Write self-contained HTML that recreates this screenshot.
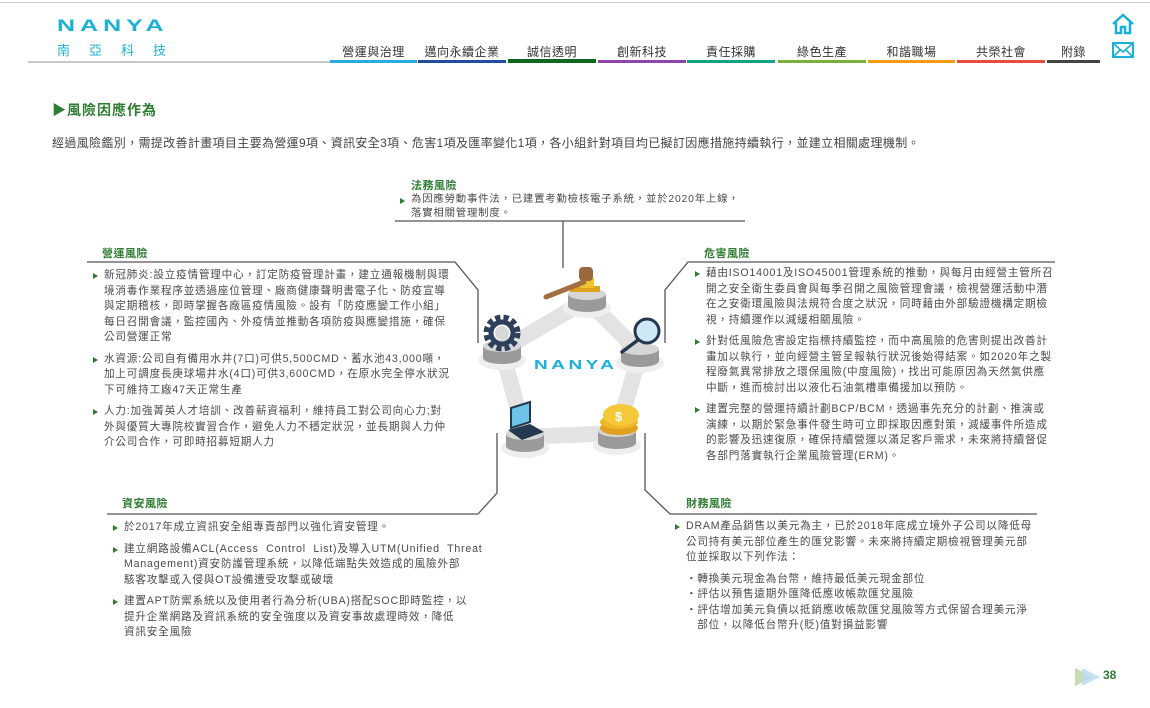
<!DOCTYPE html>
<html><head><meta charset="utf-8">
<style>
*{margin:0;padding:0;box-sizing:border-box}
body{width:1150px;height:708px;background:#fff;position:relative;overflow:hidden;font-family:"Liberation Sans","Noto Sans CJK TC",sans-serif;color:#444}
.a{position:absolute;white-space:nowrap}
.nav{position:absolute;top:43px;font-size:12px;color:#333;text-align:center;letter-spacing:0.5px}
.bar{position:absolute;top:60px;height:3px}
.t{position:absolute;font-size:11px;font-weight:bold;color:#2e7d32;letter-spacing:0.5px}
.p{position:absolute;font-size:10.6px;line-height:15.5px;color:#4a4a4a;white-space:nowrap;letter-spacing:0.8px}
.p .b{position:relative}
.p .b:before{content:"";position:absolute;left:-11px;top:5px;border-left:5px solid #2e7d32;border-top:3px solid transparent;border-bottom:3px solid transparent}
.gap{height:6px}
</style></head><body>
<div class="a" style="left:0;top:2px;width:1150px;height:1px;background:#ccc"></div>
<div class="a" style="left:57px;top:16px;font-size:25px;font-weight:bold;color:#1ab0d8;letter-spacing:5px;transform:scaleY(0.68);transform-origin:top left">NANYA</div>
<div class="a" style="left:57px;top:40px;font-size:13px;color:#1ab0d8;letter-spacing:19px">南亞科技</div>
<div class="a" style="left:28px;top:61px;width:302px;height:2px;background:#c8c8c8"></div>
<div class="nav" style="left:330px;width:87px">營運與治理</div><div class="bar" style="left:330px;width:87px;background:#29abe2"></div>
<div class="nav" style="left:418px;width:88px">邁向永續企業</div><div class="bar" style="left:418px;width:88px;background:#1f4e9c"></div>
<div class="nav" style="left:508px;width:88px">誠信透明</div><div class="bar" style="left:508px;width:88px;background:#0b6a1e;top:59px;height:4px"></div>
<div class="nav" style="left:598px;width:88px">創新科技</div><div class="bar" style="left:598px;width:88px;background:#8e44ad"></div>
<div class="nav" style="left:687px;width:88px">責任採購</div><div class="bar" style="left:687px;width:88px;background:#16a085"></div>
<div class="nav" style="left:778px;width:88px">綠色生產</div><div class="bar" style="left:778px;width:88px;background:#7cae3a"></div>
<div class="nav" style="left:868px;width:87px">和諧職場</div><div class="bar" style="left:868px;width:87px;background:#f39c12"></div>
<div class="nav" style="left:957px;width:88px">共榮社會</div><div class="bar" style="left:957px;width:88px;background:#e74c3c"></div>
<div class="nav" style="left:1047px;width:53px">附錄</div><div class="bar" style="left:1047px;width:53px;background:#444"></div>
<svg class="a" style="left:1110px;top:12px" width="26" height="50" viewBox="0 0 26 50">
<path d="M3 12 L13 3 L23 12 M6 10 V21 H11 V15 H15 V21 H20 V10" fill="none" stroke="#1ab0d8" stroke-width="2.5"/>
<rect x="3" y="31" width="20" height="14" fill="none" stroke="#1ab0d8" stroke-width="2"/>
<path d="M3 31 L13 40 L23 31 M3 45 L10 38 M23 45 L16 38" fill="none" stroke="#1ab0d8" stroke-width="1.6"/>
</svg>
<div class="a" style="left:52px;top:100px;font-size:14px;font-weight:bold;color:#2e7d32;letter-spacing:1px">▶風險因應作為</div>
<div class="a" style="left:52px;top:134px;font-size:12px;color:#444;letter-spacing:0.35px">經過風險鑑別，需提改善計畫項目主要為營運9項、資訊安全3項、危害1項及匯率變化1項，各小組針對項目均已擬訂因應措施持續執行，並建立相關處理機制。</div>

<svg class="a" style="left:0;top:0" width="1150" height="708">
<g stroke="#555" stroke-width="1.3" fill="none">
<path d="M395 221 H745 M563 221 V268"/>
<path d="M87 262 H455 L478 290 V343"/>
<path d="M1055 262 H688 L665 290 V343"/>
<path d="M107 514 H478 L497 493 V433"/>
<path d="M1037 514 H670 L645 490 V433"/>
</g>
<polygon points="587,300 640,353 617,433 525,437 502,350" fill="none" stroke="#e3e3e3" stroke-width="16" stroke-linejoin="round"/>
<g>
<g transform="translate(587,300)"><ellipse cx="0" cy="8" rx="24" ry="10" fill="#eee"/><rect x="-19" y="-6" width="38" height="12" fill="#9a9a9a"/><ellipse cx="0" cy="6" rx="19" ry="6" fill="#9a9a9a"/><ellipse cx="0" cy="-6" rx="19" ry="6" fill="#d6d6d6"/></g>
<g transform="translate(640,355)"><ellipse cx="0" cy="8" rx="24" ry="10" fill="#eee"/><rect x="-19" y="-6" width="38" height="12" fill="#9a9a9a"/><ellipse cx="0" cy="6" rx="19" ry="6" fill="#9a9a9a"/><ellipse cx="0" cy="-6" rx="19" ry="6" fill="#d6d6d6"/></g>
<g transform="translate(617,437)"><ellipse cx="0" cy="8" rx="24" ry="10" fill="#eee"/><rect x="-19" y="-6" width="38" height="12" fill="#9a9a9a"/><ellipse cx="0" cy="6" rx="19" ry="6" fill="#9a9a9a"/><ellipse cx="0" cy="-6" rx="19" ry="6" fill="#d6d6d6"/></g>
<g transform="translate(525,440)"><ellipse cx="0" cy="8" rx="24" ry="10" fill="#eee"/><rect x="-19" y="-6" width="38" height="12" fill="#9a9a9a"/><ellipse cx="0" cy="6" rx="19" ry="6" fill="#9a9a9a"/><ellipse cx="0" cy="-6" rx="19" ry="6" fill="#d6d6d6"/></g>
<g transform="translate(502,352)"><ellipse cx="0" cy="8" rx="24" ry="10" fill="#eee"/><rect x="-19" y="-6" width="38" height="12" fill="#9a9a9a"/><ellipse cx="0" cy="6" rx="19" ry="6" fill="#9a9a9a"/><ellipse cx="0" cy="-6" rx="19" ry="6" fill="#d6d6d6"/></g>
</g>
<rect x="570" y="286" width="30" height="6" fill="#e0a020"/><rect x="580" y="278" width="14" height="10" fill="#f2c230"/>
<rect x="579" y="267" width="14" height="14" rx="4" fill="#9b6a3c"/>
<path d="M546 297 L584 282" stroke="#a07040" stroke-width="5" stroke-linecap="round"/>
<circle cx="647" cy="331" r="12" fill="#cfe8f5" stroke="#24384f" stroke-width="3"/>
<path d="M638 340 L622 352" stroke="#24384f" stroke-width="3.5" stroke-linecap="round"/>
<ellipse cx="619" cy="428" rx="19" ry="7" fill="#e0a020"/><ellipse cx="619" cy="422" rx="19" ry="7" fill="#f0b828"/><ellipse cx="621" cy="415" rx="18" ry="11" fill="#f5c83a"/><text x="615" y="421" font-size="13" fill="#fff" font-weight="bold" font-family="Liberation Sans">$</text>
<path d="M511 408 L530 402 L530 422 L511 428 Z" fill="#6bc3e8" stroke="#24384f" stroke-width="2"/>
<path d="M508 430 L530 424 L544 432 L522 440 Z" fill="#24384f"/>
<circle cx="502" cy="333" r="15" fill="none" stroke="#2e3f5c" stroke-width="7" stroke-dasharray="5 3"/>
<circle cx="502" cy="333" r="11" fill="none" stroke="#2e3f5c" stroke-width="5"/>
<circle cx="502" cy="333" r="7" fill="#d8d8d8"/>
<polygon points="1075,668 1093,677 1075,686" fill="#c7dcb0"/>
<polygon points="1082,668 1100,677 1082,686" fill="#bcdcf0" opacity="0.85"/>
</svg>
<div class="a" style="left:534px;top:358px;font-size:19px;font-weight:bold;color:#1ab0d8;letter-spacing:3.5px;transform:scaleY(0.68);transform-origin:top left">NANYA</div>
<div class="a" style="left:1103px;top:668px;font-size:12px;font-weight:bold;color:#2e7d32">38</div>

<div class="t" style="left:411px;top:177px">法務風險</div>
<div class="p" style="left:411px;top:193px;line-height:13.5px;font-size:10.4px"><div class="b">為因應勞動事件法，已建置考勤檢核電子系統，並於2020年上線，</div>落實相關管理制度。</div>

<div class="t" style="left:102px;top:245px">營運風險</div>
<div class="p" style="left:104px;top:268px"><div class="b">新冠肺炎:設立疫情管理中心，訂定防疫管理計畫，建立通報機制與環</div>境消毒作業程序並透過座位管理、廠商健康聲明書電子化、防疫宣導<br>與定期稽核，即時掌握各廠區疫情風險。設有「防疫應變工作小組」<br>每日召開會議，監控國內、外疫情並推動各項防疫與應變措施，確保<br>公司營運正常<div class="gap"></div><div class="b">水資源:公司自有備用水井(7口)可供5,500CMD、蓄水池43,000噸，</div>加上可調度長庚球場井水(4口)可供3,600CMD，在原水完全停水狀況<br>下可維持工廠47天正常生產<div class="gap"></div><div class="b">人力:加強菁英人才培訓、改善薪資福利，維持員工對公司向心力;對</div>外與優質大專院校實習合作，避免人力不穩定狀況，並長期與人力仲<br>介公司合作，可即時招募短期人力</div>

<div class="t" style="left:704px;top:245px">危害風險</div>
<div class="p" style="left:706px;top:266px"><div class="b">藉由ISO14001及ISO45001管理系統的推動，與每月由經營主管所召</div>開之安全衛生委員會與每季召開之風險管理會議，檢視營運活動中潛<br>在之安衛環風險與法規符合度之狀況，同時藉由外部驗證機構定期檢<br>視，持續運作以減緩相關風險。<div class="gap"></div><div class="b">針對低風險危害設定指標持續監控，而中高風險的危害則提出改善計</div>畫加以執行，並向經營主管呈報執行狀況後始得結案。如2020年之製<br>程廢氣異常排放之環保風險(中度風險)，找出可能原因為天然氣供應<br>中斷，進而檢討出以液化石油氣槽車備援加以預防。<div class="gap"></div><div class="b">建置完整的營運持續計劃BCP/BCM，透過事先充分的計劃、推演或</div>演練，以期於緊急事件發生時可立即採取因應對策，減緩事件所造成<br>的影響及迅速復原，確保持續營運以滿足客戶需求，未來將持續督促<br>各部門落實執行企業風險管理(ERM)。</div>

<div class="t" style="left:122px;top:495px">資安風險</div>
<div class="p" style="left:124px;top:520px"><div class="b">於2017年成立資訊安全組專責部門以強化資安管理。</div><div class="gap"></div><div class="b">建立網路設備ACL(Access&nbsp; Control&nbsp; List)及導入UTM(Unified&nbsp; Threat</div>Management)資安防護管理系統，以降低端點失效造成的風險外部<br>駭客攻擊或入侵與OT設備遭受攻擊或破壞<div class="gap"></div><div class="b">建置APT防禦系統以及使用者行為分析(UBA)搭配SOC即時監控，以</div>提升企業網路及資訊系統的安全強度以及資安事故處理時效，降低<br>資訊安全風險</div>

<div class="t" style="left:686px;top:495px">財務風險</div>
<div class="p" style="left:686px;top:519px"><div class="b">DRAM產品銷售以美元為主，已於2018年底成立境外子公司以降低母</div>公司持有美元部位產生的匯兌影響。未來將持續定期檢視管理美元部<br>位並採取以下列作法：<div class="gap"></div>・轉換美元現金為台幣，維持最低美元現金部位<br>・評估以預售遠期外匯降低應收帳款匯兌風險<br>・評估增加美元負債以抵銷應收帳款匯兌風險等方式保留合理美元淨<br>&nbsp;&nbsp;&nbsp;部位，以降低台幣升(貶)值對損益影響</div>
</body></html>
